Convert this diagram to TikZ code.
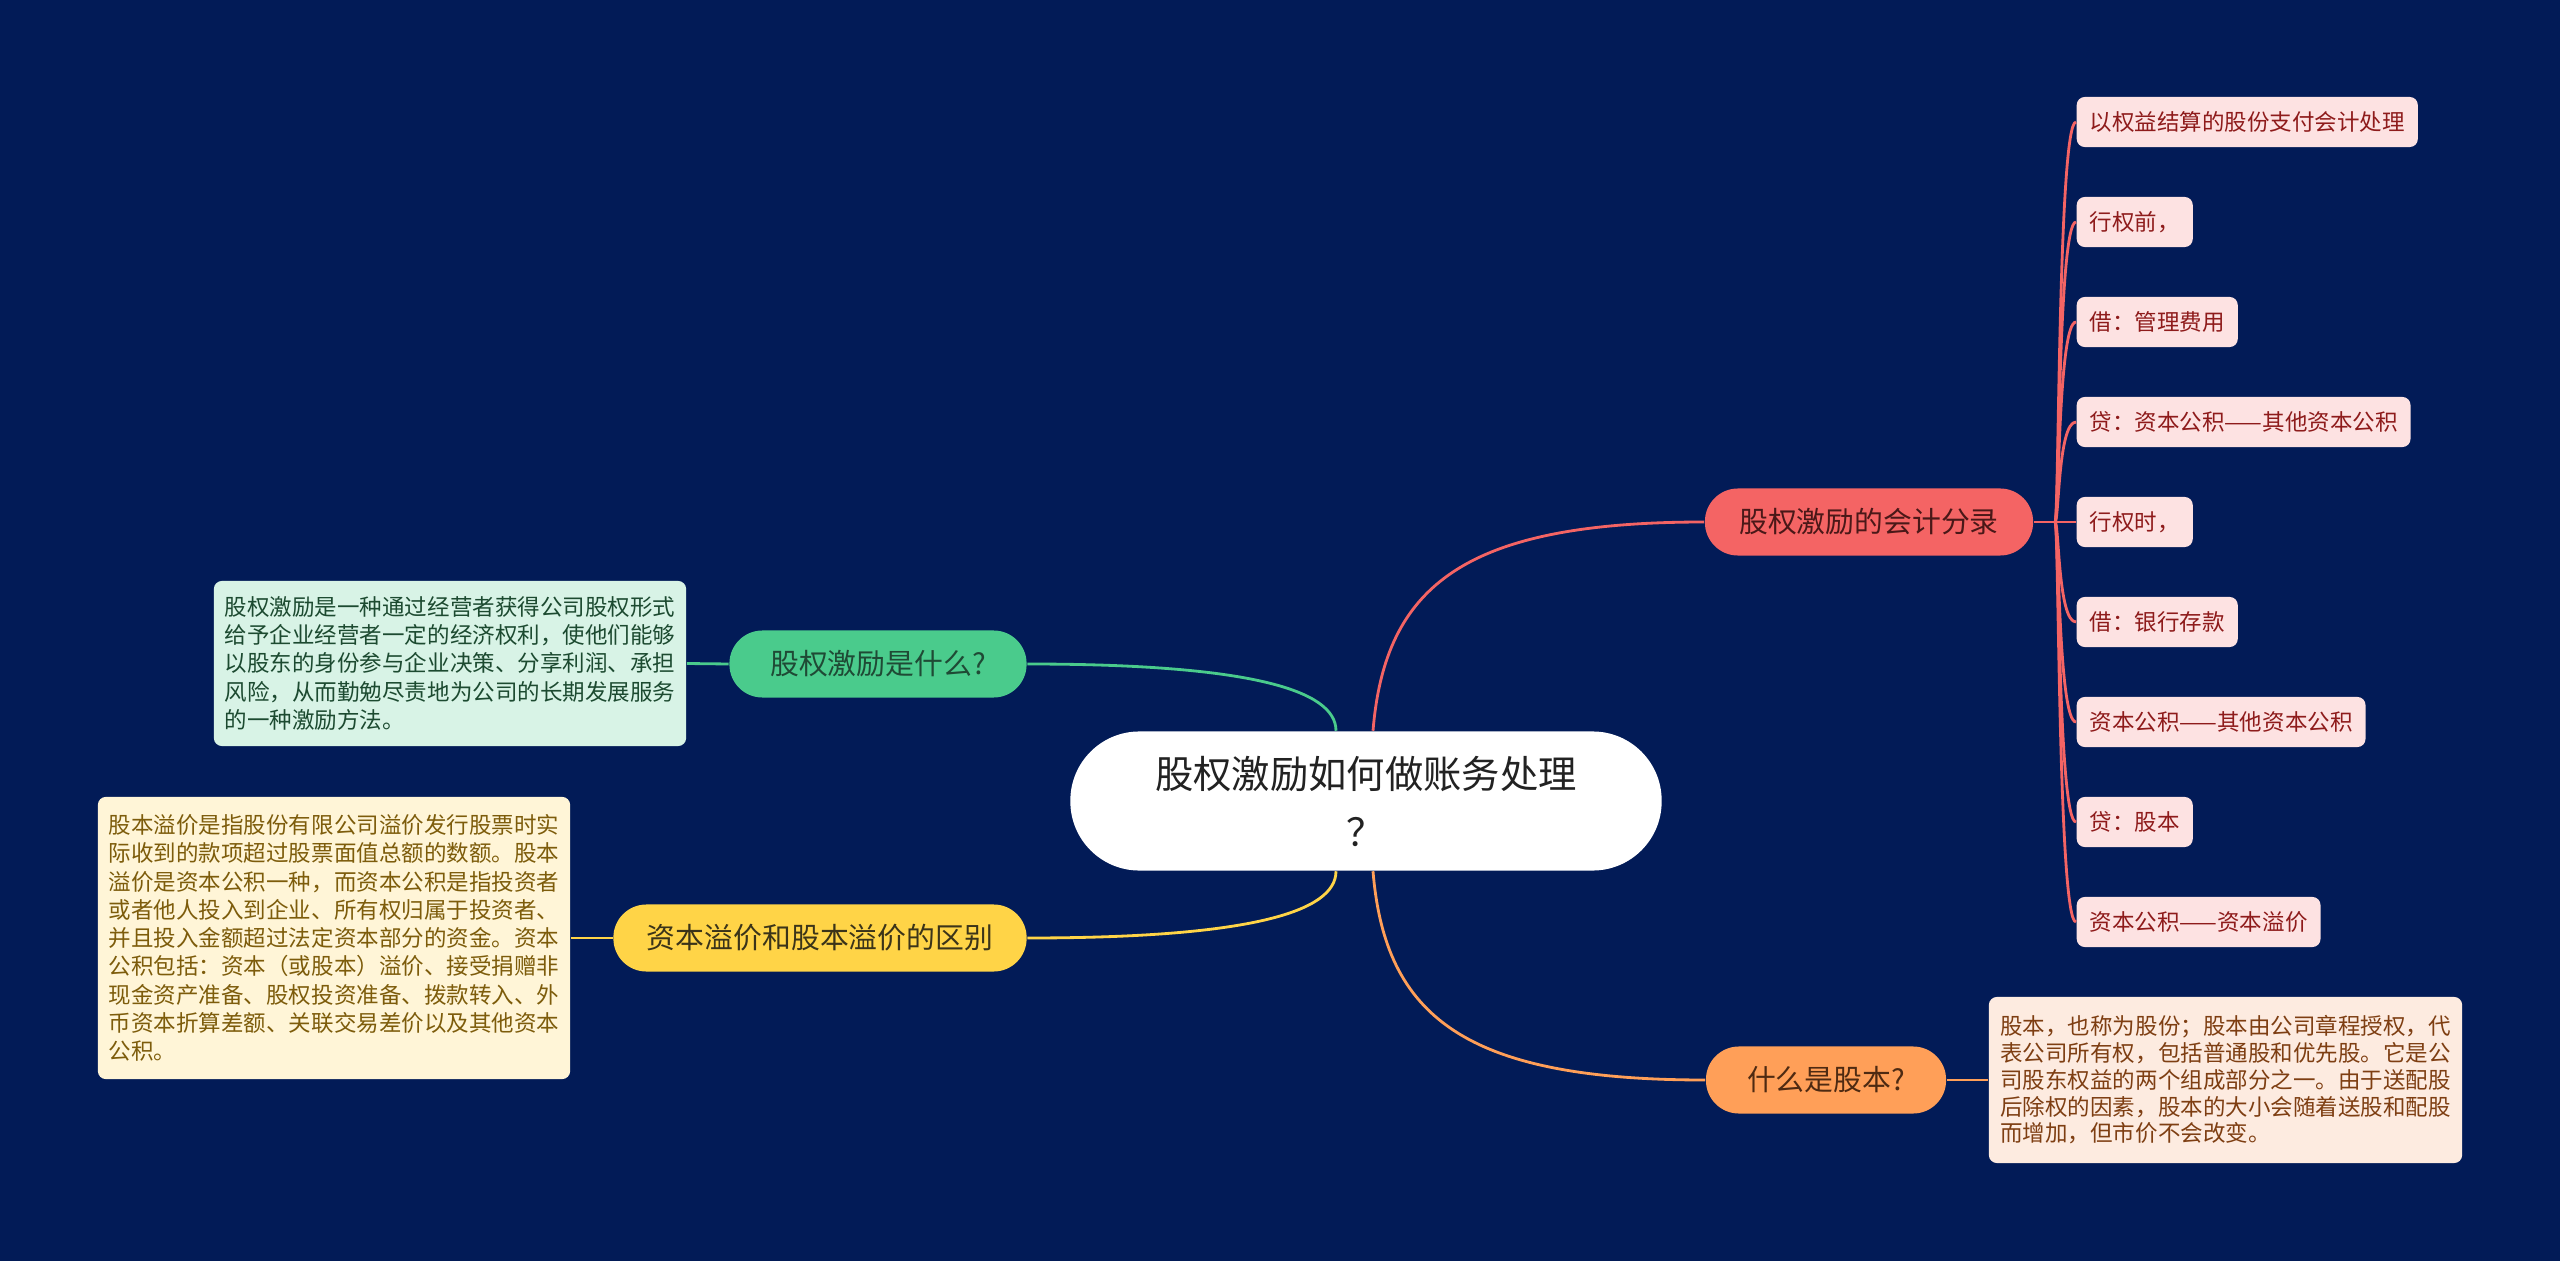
\documentclass[tikz,border=0pt]{standalone}
\usepackage{fontspec}
\newfontfamily\cjk{Noto Sans CJK SC}
\definecolor{bg}{HTML}{021B57}
\definecolor{gMain}{HTML}{4ACB8C}\definecolor{gText}{HTML}{1F4A35}
\definecolor{gLeaf}{HTML}{D8F3E6}\definecolor{gLeafT}{HTML}{1C4A30}
\definecolor{yMain}{HTML}{FFD447}\definecolor{yText}{HTML}{3B3419}
\definecolor{yLeaf}{HTML}{FFF5D7}\definecolor{yLeafT}{HTML}{7D5C0B}
\definecolor{rMain}{HTML}{F46464}\definecolor{rText}{HTML}{4A1818}
\definecolor{rLeaf}{HTML}{FDE2E2}\definecolor{rLeafT}{HTML}{8E1B1B}
\definecolor{oMain}{HTML}{FF9F58}\definecolor{oText}{HTML}{4E2A12}
\definecolor{oLeaf}{HTML}{FDEBE0}\definecolor{oLeafT}{HTML}{7E3E12}
\definecolor{rootT}{HTML}{222222}
\tikzset{
  mainbox/.style={rounded corners=0.33cm, minimum height=0.67cm, inner sep=0pt, font=\cjk\fontsize{8.2}{10}\selectfont},
  leafbox/.style={rounded corners=0.08cm, align=left, inner sep=0pt, font=\cjk\fontsize{6.4}{8.05}\selectfont},
  redleaf/.style={rounded corners=0.08cm, fill=rLeaf, text=rLeafT, anchor=west, minimum height=0.5cm, inner xsep=0.13cm, inner ysep=0pt, font=\cjk\fontsize{6.4}{8}\selectfont},
  conn/.style={line width=0.8pt}
}
\begin{document}
\begin{tikzpicture}[x=0.01cm,y=-0.01cm]
\useasboundingbox (0,0) rectangle (2560,1261);
\fill[bg] (0,0) rectangle (2560,1261);

% root
\node[fill=white, text=rootT, rounded corners=0.69cm, minimum width=5.91cm, minimum height=1.39cm, inner sep=0pt, align=center, font=\cjk\fontsize{10.9}{16.5}\selectfont] (root) at (1366,801) {股权激励如何做账务处理\\？};

% main branches
\node[mainbox, fill=gMain, text=gText, minimum width=2.97cm] (green) at (878,664) {股权激励是什么?};
\node[mainbox, fill=yMain, text=yText, minimum width=4.13cm] (yellow) at (820,938) {资本溢价和股本溢价的区别};
\node[mainbox, fill=rMain, text=rText, minimum width=3.28cm] (red) at (1869,522) {股权激励的会计分录};
\node[mainbox, fill=oMain, text=oText, minimum width=2.40cm] (orange) at (1826,1080) {什么是股本?};

% leaves
\node[leafbox, fill=gLeaf, text=gLeafT, minimum width=4.72cm, minimum height=1.65cm] (gleaf) at (450,663.5) {股权激励是一种通过经营者获得公司股权形式\\给予企业经营者一定的经济权利，使他们能够\\以股东的身份参与企业决策、分享利润、承担\\风险，从而勤勉尽责地为公司的长期发展服务\\的一种激励方法。};

\node[leafbox, fill=yLeaf, text=yLeafT, minimum width=4.72cm, minimum height=2.82cm] (yleaf) at (334,938) {股本溢价是指股份有限公司溢价发行股票时实\\际收到的款项超过股票面值总额的数额。股本\\溢价是资本公积一种，而资本公积是指投资者\\或者他人投入到企业、所有权归属于投资者、\\并且投入金额超过法定资本部分的资金。资本\\公积包括：资本（或股本）溢价、接受捐赠非\\现金资产准备、股权投资准备、拨款转入、外\\币资本折算差额、关联交易差价以及其他资本\\公积。};

\node[leafbox, fill=oLeaf, text=oLeafT, minimum width=4.73cm, minimum height=1.66cm, font=\cjk\fontsize{6.4}{7.6}\selectfont] (oleaf) at (2225.5,1080) {股本，也称为股份；股本由公司章程授权，代\\表公司所有权，包括普通股和优先股。它是公\\司股东权益的两个组成部分之一。由于送配股\\后除权的因素，股本的大小会随着送股和配股\\而增加，但市价不会改变。};

\node[redleaf] (r1) at (2076,122) {以权益结算的股份支付会计处理};
\node[redleaf] (r2) at (2076,222) {行权前，};
\node[redleaf] (r3) at (2076,322) {借：管理费用};
\node[redleaf] (r4) at (2076,422) {贷：资本公积——其他资本公积};
\node[redleaf] (r5) at (2076,522) {行权时，};
\node[redleaf] (r6) at (2076,622) {借：银行存款};
\node[redleaf] (r7) at (2076,722) {资本公积——其他资本公积};
\node[redleaf] (r8) at (2076,822) {贷：股本};
\node[redleaf] (r9) at (2076,922) {资本公积——资本溢价};

% main connectors
\draw[conn, draw=gMain] (green.east) .. controls (1250,664) and (1336,690) .. ([xshift=-0.30cm]root.north);
\draw[conn, draw=yMain] (yellow.east) .. controls (1250,938) and (1336,912) .. ([xshift=-0.30cm]root.south);
\draw[conn, draw=rMain] ([xshift=0.07cm]root.north) .. controls (1385,585) and (1465,522) .. (red.west);
\draw[conn, draw=oMain] ([xshift=0.07cm]root.south) .. controls (1385,1017) and (1465,1080) .. (orange.west);

% leaf connectors
\draw[conn, draw=gMain] (green.west) -- (gleaf.east);
\draw[conn, draw=yMain] (yellow.west) -- (yleaf.east);
\draw[conn, draw=oMain] (orange.east) -- (oleaf.west);

\coordinate (hub) at (2055,522);
\draw[conn, draw=rMain] (red.east) -- (hub);
\foreach \n/\yy in {r1/122,r2/222,r3/322,r4/422,r6/622,r7/722,r8/822,r9/922}{
  \draw[conn, draw=rMain] (hub) .. controls (2059,522) and (2058,\yy) .. (\n.west);
}
\draw[conn, draw=rMain] (hub) -- (r5.west);
\end{tikzpicture}
\end{document}
